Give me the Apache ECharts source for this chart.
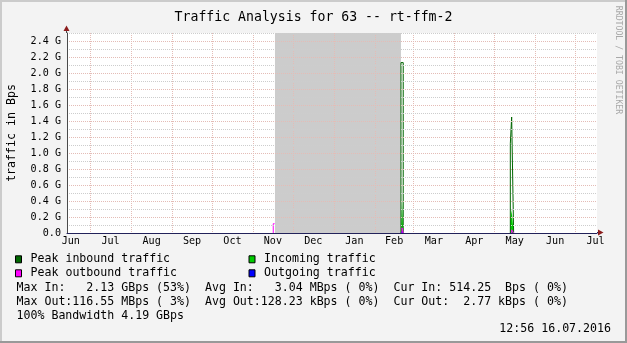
<!DOCTYPE html>
<html>
<head>
<meta charset="utf-8">
<script src="https://cdn.jsdelivr.net/npm/echarts@6/dist/echarts.min.js"></script>
<style>html,body{margin:0;padding:0;background:#f3f3f3}#c{width:627px;height:343px}</style>
</head>
<body>
<div id="c"></div>
<script>
// ---------- data ----------
const titleText = 'Traffic Analysis for 63 -- rt-ffm-2';
const yAxisTitle = 'traffic in Bps';
const watermark = 'RRDTOOL / TOBI OETIKER';
const rangeStart = '2015-06-13 15:00';
const rangeEnd = '2016-07-17 15:00';
const monthStarts = ['2015-07-01 00:00','2015-08-01 00:00','2015-09-01 00:00','2015-10-01 00:00','2015-11-01 00:00','2015-12-01 00:00','2016-01-01 00:00','2016-02-01 00:00','2016-03-01 00:00','2016-04-01 00:00','2016-05-01 00:00','2016-06-01 00:00','2016-07-01 00:00'];
const monthLabelDates = ['2015-06-16 12:00','2015-07-16 12:00','2015-08-16 12:00','2015-09-16 00:00','2015-10-16 12:00','2015-11-16 00:00','2015-12-16 12:00','2016-01-16 12:00','2016-02-15 12:00','2016-03-16 12:00','2016-04-16 00:00','2016-05-16 12:00','2016-06-16 00:00','2016-07-16 12:00'];
const monthLabels = ['Jun','Jul','Aug','Sep','Oct','Nov','Dec','Jan','Feb','Mar','Apr','May','Jun','Jul'];
const yMax = 2.5e9;
const yStep = 1e8;
const unknownStart = '2015-11-17 14:00';
const unknownEnd = '2016-02-20 16:00';

const seriesNames = ['Peak inbound traffic','Incoming traffic','Peak outbound traffic','Outgoing traffic'];
// step data: each value holds until the next point; null = no line
const peakInbound = [['2016-02-20 16:00',0],['2016-02-20 16:00',2.13e9],['2016-02-22 09:00',0],['2016-02-22 10:00',null],
                     ['2016-05-13 05:00',0],['2016-05-13 05:00',1.115e9],['2016-05-14 05:00',1.45e9],['2016-05-15 17:00',0],['2016-05-15 18:00',null]];
const incoming = [[rangeStart,0],['2015-11-17 14:00',null],['2016-02-20 16:00',0],['2016-02-21 12:00',0.41e9],['2016-02-22 09:00',0],['2016-05-13 05:00',0.15e9],['2016-05-14 05:00',0.29e9],['2016-05-15 17:00',0],[rangeEnd,0]];
const peakOutbound = [['2015-11-16 07:00',0],['2015-11-16 07:00',0.1166e9],['2015-11-17 07:00',0.1166e9],['2015-11-17 08:00',null],
                      ['2016-02-21 12:00',0],['2016-02-21 12:00',0.065e9],['2016-02-22 09:00',0],['2016-02-22 10:00',null],
                      ['2016-05-14 05:00',0],['2016-05-14 05:00',0.04e9],['2016-05-15 17:00',0],['2016-05-15 18:00',null]];
const outgoing = [[rangeStart,0],['2015-11-17 14:00',null],['2016-02-20 16:00',0],['2016-02-21 12:00',0.03e9],['2016-02-22 09:00',0],['2016-05-14 05:00',0.02e9],['2016-05-15 17:00',0],[rangeEnd,0]];

const statsLines = [
  'Max In:   2.13 GBps (53%)  Avg In:   3.04 MBps ( 0%)  Cur In: 514.25  Bps ( 0%)',
  'Max Out:116.55 MBps ( 3%)  Avg Out:128.23 kBps ( 0%)  Cur Out:  2.77 kBps ( 0%)',
  '100% Bandwidth 4.19 GBps'
];
const timestampText = '12:56 16.07.2016';

// ---------- styles ----------
const MONO = '"DejaVu Sans Mono", "Liberation Mono", monospace';
const colors = ['#006600','#00cc00','#ff00ff','#0000ff'];
const majorGrid = '#e4bcb6';
const minorGrid = '#cdcdcd';

const ts = s => new Date(s.replace(' ','T')).getTime();
const toTs = arr => arr.map(p => [ts(p[0]), p[1]]);
const monthStartTs = monthStarts.map(ts);
const monthLabelTs = monthLabelDates.map(ts);

const chart = echarts.init(document.getElementById('c'), null, {renderer:'canvas'});

const legendGraphics = [];
seriesNames.forEach((n, i) => {
  const col = i % 2, row = Math.floor(i / 2);
  const bx = col === 0 ? 15 : 248.5;
  const cy = 259.3 + row * 14;
  legendGraphics.push({type:'rect', shape:{x:bx+0.5, y:cy-3.5, width:6, height:7}, style:{fill:colors[i], stroke:'#000', lineWidth:1}, z:100});
  legendGraphics.push({type:'text', x:bx+15.5, y:cy, style:{text:n, font:'11.6px '+MONO, fill:'#000', textVerticalAlign:'middle'}, z:100});
});
statsLines.forEach((t, i) => {
  legendGraphics.push({type:'text', x:16.5, y:287.5 + i*14, style:{text:t, font:'11.6px '+MONO, fill:'#000', textVerticalAlign:'middle'}, z:100});
});

const option = {
  animation: false,
  backgroundColor: '#f3f3f3',
  textStyle: {fontFamily: MONO},
  title: {
    text: titleText, left: 'center', top: 6,
    textStyle: {fontFamily: MONO, fontSize: 13.2, fontWeight: 'normal', color: '#000'}
  },
  grid: {left: 67, right: 30, top: 33, bottom: 110, show: true, backgroundColor: '#ffffff', borderWidth: 0,
         containLabel: false, outerBoundsMode: 'none'},
  xAxis: [{
    type: 'value', min: ts(rangeStart), max: ts(rangeEnd), z: 10,
    axisLine: {show: true, onZero: false, lineStyle: {color: '#22225a', width: 1}},
    axisTick: {show: false},
    splitLine: {show: false},
    axisLabel: {
      customValues: monthLabelTs, margin: 3, color: '#000', fontFamily: MONO, fontSize: 10.1,
      formatter: v => { const i = monthLabelTs.indexOf(v); return i >= 0 ? monthLabels[i] : ''; }
    }
  }],
  yAxis: [{
    type: 'value', min: 0, max: yMax, interval: yStep, z: 10,
    name: yAxisTitle, nameLocation: 'middle', nameGap: 49,
    nameTextStyle: {fontFamily: MONO, fontSize: 11.6, color: '#000'},
    axisLine: {show: true, lineStyle: {color: '#4a4a4a', width: 1}},
    axisTick: {show: false},
    splitLine: {show: true, lineStyle: {color: [majorGrid, minorGrid], type: [1,1], width: 1}},
    axisLabel: {
      margin: 6, color: '#000', fontFamily: MONO, fontSize: 10.1,
      formatter: v => {
        const k = Math.round(v / yStep);
        if (k % 2 !== 0) return '';
        if (k === 0) return '0.0';
        return (v / 1e9).toFixed(1) + ' G';
      }
    }
  }],
  series: [
    {
      name: seriesNames[1], type: 'line', step: 'end', data: toTs(incoming), symbol: 'none', z: 2,
      lineStyle: {width: 0}, areaStyle: {color: colors[1], opacity: 1}, connectNulls: false,
      markArea: {silent: true, itemStyle: {color: '#cccccc', opacity: 1}, data: [[{xAxis: ts(unknownStart)}, {xAxis: ts(unknownEnd)}]]}
    },
    {
      name: seriesNames[0], type: 'line', step: 'end', data: toTs(peakInbound), symbol: 'none', z: 3,
      lineStyle: {width: 1, color: colors[0]}, connectNulls: false
    },
    {
      name: seriesNames[3], type: 'line', step: 'end', data: toTs(outgoing), symbol: 'none', z: 4,
      lineStyle: {width: 0}, areaStyle: {color: colors[3], opacity: 1}
    },
    {
      name: seriesNames[2], type: 'line', step: 'end', data: toTs(peakOutbound), symbol: 'none', z: 5,
      lineStyle: {width: 1, color: colors[2]}, connectNulls: false
    },
    {
      name: 'monthGrid', type: 'custom', z: 6, silent: true,
      data: monthStartTs.map(v => [v]),
      renderItem: (params, api) => {
        const v = api.value(0);
        const p0 = api.coord([v, 0]);
        const p1 = api.coord([v, yMax]);
        const x = Math.round(p0[0]) + 0.5;
        return {type: 'line', shape: {x1: x, y1: p1[1], x2: x, y2: p0[1]},
                style: {stroke: majorGrid, lineWidth: 1, lineDash: [1, 1]}};
      }
    }
  ],
  graphic: [
    {type:'rect', shape:{x:0,y:0,width:627,height:2}, style:{fill:'#cbcbcb'}, z:100},
    {type:'rect', shape:{x:0,y:0,width:2,height:343}, style:{fill:'#cbcbcb'}, z:100},
    {type:'rect', shape:{x:625,y:0,width:2,height:343}, style:{fill:'#999999'}, z:100},
    {type:'rect', shape:{x:0,y:341,width:627,height:2}, style:{fill:'#999999'}, z:100},
    {type:'line', shape:{x1:66.5,y1:30,x2:66.5,y2:33}, style:{stroke:'#4a4a4a', lineWidth:1}, z:100},
    {type:'polygon', shape:{points:[[63.5,31],[69.5,31],[66.5,25.5]]}, style:{fill:'#8b1c1c'}, z:100},
    {type:'line', shape:{x1:597,y1:232.5,x2:599,y2:232.5}, style:{stroke:'#22225a', lineWidth:1}, z:100},
    {type:'polygon', shape:{points:[[598,229.5],[598,235.5],[603.5,232.5]]}, style:{fill:'#8b1c1c'}, z:100},
    {type:'text', x:618.5, y:60, rotation:-Math.PI/2, style:{text:watermark, font:'8.2px '+MONO, fill:'#a8a8a8', textAlign:'center', textVerticalAlign:'middle'}, z:100},
    {type:'text', x:611, y:329, style:{text:timestampText, font:'11.6px '+MONO, fill:'#000', textAlign:'right', textVerticalAlign:'middle'}, z:100}
  ].concat(legendGraphics)
};
chart.setOption(option);
</script>
</body>
</html>
